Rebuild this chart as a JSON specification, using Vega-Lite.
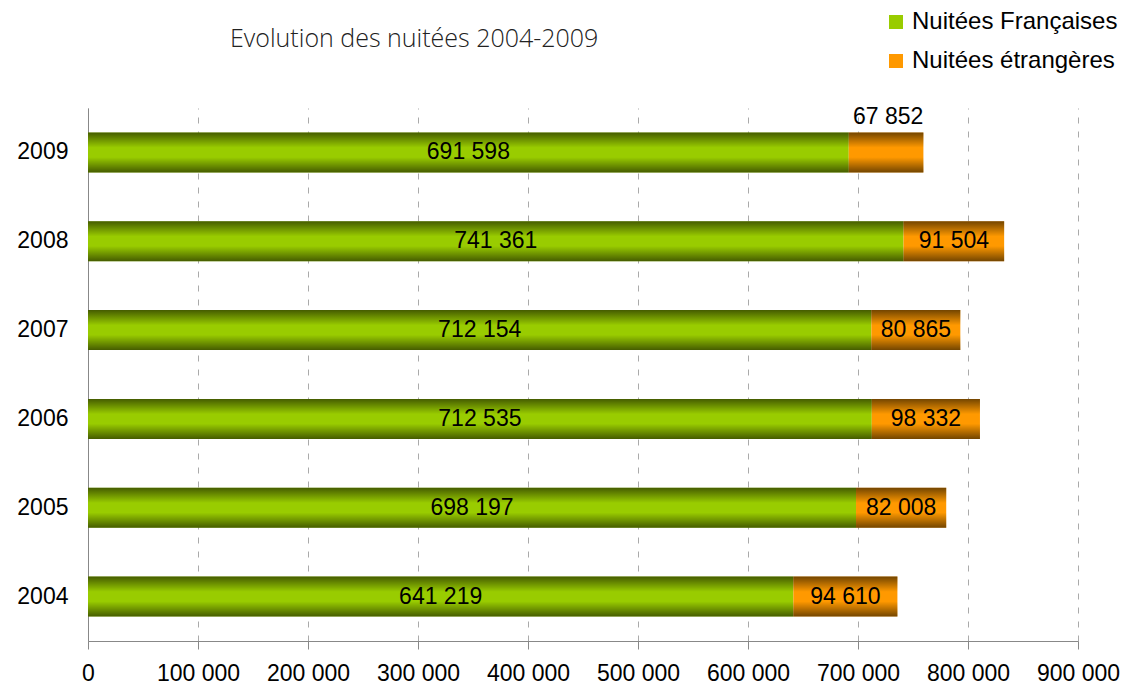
{
  "$schema": "https://vega.github.io/schema/vega-lite/v6.json",
  "width": 990,
  "height": 533,
  "autosize": {"type": "none"},
  "padding": {"left": 88, "top": 108, "right": 48, "bottom": 44},
  "background": "white",
  "config": {
    "locale": {"number": {"decimal": ",", "thousands": " ", "grouping": [3], "currency": ["", " €"]}},
    "view": {"stroke": null},
    "font": "Liberation Sans"
  },
  "title": {
    "text": "Evolution des nuitées 2004-2009",
    "anchor": "start",
    "frame": "group",
    "dx": 142,
    "offset": -42,
    "fontSize": 25,
    "fontWeight": 300,
    "font": "Open Sans",
    "color": "#222"
  },
  "data": {
    "values": [
      {"year": 2004, "series": "Nuitées Françaises", "value": 641219},
      {"year": 2004, "series": "Nuitées étrangères", "value": 94610},
      {"year": 2005, "series": "Nuitées Françaises", "value": 698197},
      {"year": 2005, "series": "Nuitées étrangères", "value": 82008},
      {"year": 2006, "series": "Nuitées Françaises", "value": 712535},
      {"year": 2006, "series": "Nuitées étrangères", "value": 98332},
      {"year": 2007, "series": "Nuitées Françaises", "value": 712154},
      {"year": 2007, "series": "Nuitées étrangères", "value": 80865},
      {"year": 2008, "series": "Nuitées Françaises", "value": 741361},
      {"year": 2008, "series": "Nuitées étrangères", "value": 91504},
      {"year": 2009, "series": "Nuitées Françaises", "value": 691598},
      {"year": 2009, "series": "Nuitées étrangères", "value": 67852}
    ]
  },
  "transform": [
    {"stack": "value", "groupby": ["year"], "sort": [{"field": "series", "order": "ascending"}], "as": ["v0", "v1"]}
  ],
  "encoding": {
    "y": {
      "field": "year",
      "type": "ordinal",
      "sort": "descending",
      "scale": {"paddingInner": 0.55, "paddingOuter": 0.275},
      "axis": {
        "title": null,
        "ticks": false,
        "labelPadding": 20,
        "labelFontSize": 23,
        "labelColor": "#000",
        "domainColor": "#888",
        "grid": false
      }
    }
  },
  "layer": [
    {
      "mark": {"type": "bar"},
      "encoding": {
        "x": {
          "field": "v0",
          "type": "quantitative",
          "scale": {"domain": [0, 900000], "nice": false},
          "axis": {
            "title": null,
            "values": [0, 100000, 200000, 300000, 400000, 500000, 600000, 700000, 800000, 900000],
            "format": ",d",
            "grid": true,
            "gridDash": [6, 8],
            "gridColor": "#aaa",
            "tickColor": "#888",
            "domainColor": "#888",
            "tickSize": 8,
            "labelFontSize": 23,
            "labelColor": "#000",
            "labelPadding": 13,
            "labelFlush": false,
            "labelOverlap": false
          }
        },
        "x2": {"field": "v1"},
        "color": {
          "field": "series",
          "type": "nominal",
          "scale": {"domain": ["Nuitées Françaises", "Nuitées étrangères"], "range": ["#99CC00", "#FF9900"]},
          "legend": {
            "title": null,
            "orient": "none",
            "legendX": 796,
            "legendY": -98,
            "symbolType": "square",
            "symbolSize": 196,
            "symbolStrokeWidth": 0,
            "labelFontSize": 24,
            "labelLimit": 400,
            "labelColor": "#000",
            "labelOffset": 4,
            "rowPadding": 15
          }
        }
      }
    },
    {
      "mark": {
        "type": "bar",
        "fill": {
          "gradient": "linear",
          "x1": 0, "y1": 0, "x2": 0, "y2": 1,
          "stops": [
            {"offset": 0, "color": "rgba(0,0,0,0.55)"},
            {"offset": 0.38, "color": "rgba(0,0,0,0)"},
            {"offset": 0.62, "color": "rgba(0,0,0,0)"},
            {"offset": 1, "color": "rgba(0,0,0,0.55)"}
          ]
        }
      },
      "encoding": {
        "x": {"field": "v0", "type": "quantitative"},
        "x2": {"field": "v1"}
      }
    },
    {
      "transform": [
        {"filter": "!(datum.year == 2009 && datum.series == 'Nuitées étrangères')"},
        {"fold": ["v0", "v1"], "as": ["edge", "pos"]},
        {"aggregate": [{"op": "mean", "field": "pos", "as": "mid"}], "groupby": ["year", "series", "value"]}
      ],
      "mark": {"type": "text", "fontSize": 23, "color": "#000", "baseline": "middle"},
      "encoding": {
        "x": {"field": "mid", "type": "quantitative"},
        "text": {"field": "value", "type": "quantitative", "format": ",d"}
      }
    },
    {
      "transform": [{"filter": "datum.year == 2009 && datum.series == 'Nuitées étrangères'"}],
      "mark": {"type": "text", "fontSize": 23, "color": "#000", "align": "right", "baseline": "middle", "dy": -35},
      "encoding": {
        "x": {"field": "v1", "type": "quantitative"},
        "text": {"field": "value", "type": "quantitative", "format": ",d"}
      }
    }
  ]
}
